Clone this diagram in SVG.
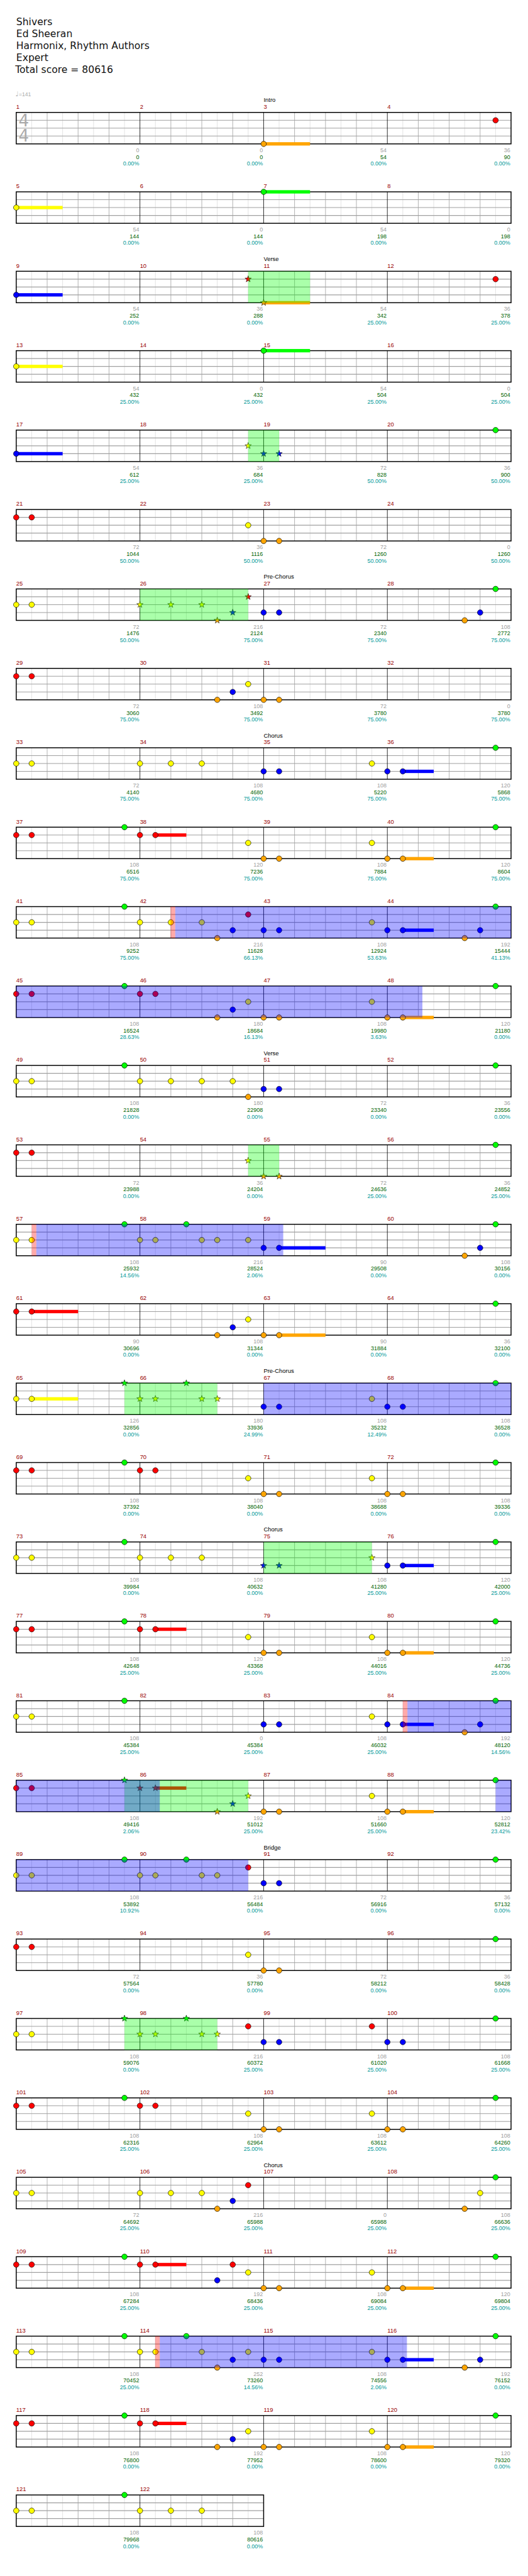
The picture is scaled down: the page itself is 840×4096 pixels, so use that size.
<svg xmlns="http://www.w3.org/2000/svg" width="840" height="4096" viewBox="0 0 840 4096">
<style>
text{font-family:"Liberation Sans",Arial,sans-serif}
.hd{font-family:"DejaVu Sans",Verdana,sans-serif;font-size:19px;fill:#111}
.mn{font-size:11.5px;fill:#990000}
.sec{font-size:11.5px;fill:#000}
.la,.lb,.lc{font-size:11px;text-anchor:end}
.la{fill:#A0A0A0}.lb{fill:#006400}.lc{fill:#009999}
.g{fill:#00FF00}.r{fill:#FF0000}.y{fill:#FFFF00}.b{fill:#0000FF}.o{fill:#FFA500}
.sp{fill:#00FF00;opacity:.333}.ov{fill:#0000FF;opacity:.333}.pk{fill:#FF0000;opacity:.333}
</style>
<defs>
<circle id="n" r="5.3" stroke="#000" stroke-width="0.8"/>
<path id="s" d="M0,-6.5L1.53,-2.1L6.18,-2.01L2.47,0.8L3.82,5.26L0,2.6L-3.82,5.26L-2.47,0.8L-6.18,-2.01L-1.53,-2.1Z" stroke="#000" stroke-width="0.7"/>
<g id="st4">
<path d="M30 0v61M90 0v61M150 0v61M210 0v61M270 0v61M330 0v61M390 0v61M450 0v61M510 0v61M570 0v61M630 0v61M690 0v61M750 0v61M810 0v61M870 0v61M930 0v61" stroke="#DDDDDD" stroke-width="1"/>
<path d="M60 0v61M120 0v61M180 0v61M300 0v61M360 0v61M420 0v61M540 0v61M600 0v61M660 0v61M780 0v61M840 0v61M900 0v61" stroke="#A0A0A0" stroke-width="1"/>
<path d="M0 15.25H960M0 30.5H960M0 45.75H960" stroke="#A0A0A0" stroke-width="1.4"/>
<path d="M240 0v61M480 0v61M720 0v61" stroke="#000" stroke-width="1"/>
<rect width="960" height="61" fill="none" stroke="#000" stroke-width="1.8"/>
</g>
<g id="st2">
<path d="M30 0v61M90 0v61M150 0v61M210 0v61M270 0v61M330 0v61M390 0v61M450 0v61" stroke="#DDDDDD" stroke-width="1"/>
<path d="M60 0v61M120 0v61M180 0v61M300 0v61M360 0v61M420 0v61" stroke="#A0A0A0" stroke-width="1"/>
<path d="M0 15.25H480M0 30.5H480M0 45.75H480" stroke="#A0A0A0" stroke-width="1.4"/>
<path d="M240 0v61" stroke="#000" stroke-width="1"/>
<rect width="480" height="61" fill="none" stroke="#000" stroke-width="1.8"/>
</g>
</defs>
<rect width="840" height="4096" fill="#fff"/>
<g transform="scale(0.82)">
<g id="header">
<text class="hd" x="31.5" y="49.3">Shivers</text>
<text class="hd" x="31.5" y="72.4">Ed Sheeran</text>
<text class="hd" x="31.5" y="95.6">Harmonix, Rhythm Authors</text>
<text class="hd" x="31.5" y="118.6">Expert</text>
<text class="hd" x="29.5" y="141.7">Total score = 80616</text>
<text x="30" y="187" style="font-family:'DejaVu Sans',sans-serif;font-size:13px;fill:#AAAAAA">♩</text>
<text x="36.5" y="186" style="font-size:10.5px;fill:#AAAAAA">=141</text>
</g>

<g id="row-1" transform="translate(31.5,218)">
<use href="#st4"/>
<text x="4.5" y="27" style="font-family:'DejaVu Sans',sans-serif;font-size:32px;fill:#AAAAAA">4</text>
<text x="4.5" y="57" style="font-family:'DejaVu Sans',sans-serif;font-size:32px;fill:#AAAAAA">4</text>
<text class="sec" x="480" y="-20">Intro</text>
<text class="mn" x="0" y="-7">1</text><text class="mn" x="240" y="-7">2</text><text class="mn" x="480" y="-7">3</text><text class="mn" x="720" y="-7">4</text>
<text class="la" x="238.5" y="77">0</text><text class="lb" x="238.5" y="90">0</text><text class="lc" x="238.5" y="103">0.00%</text>
<text class="la" x="478.5" y="77">0</text><text class="lb" x="478.5" y="90">0</text><text class="lc" x="478.5" y="103">0.00%</text>
<text class="la" x="718.5" y="77">54</text><text class="lb" x="718.5" y="90">54</text><text class="lc" x="718.5" y="103">0.00%</text>
<text class="la" x="958.5" y="77">36</text><text class="lb" x="958.5" y="90">90</text><text class="lc" x="958.5" y="103">0.00%</text>
<rect class="o" x="480" y="57.75" width="90" height="6.5"/>
<use href="#n" class="o" x="480" y="61"/><use href="#n" class="r" x="930" y="15.25"/>
</g>

<g id="row-2" transform="translate(31.5,372)">
<use href="#st4"/>
<text class="mn" x="0" y="-7">5</text><text class="mn" x="240" y="-7">6</text><text class="mn" x="480" y="-7">7</text><text class="mn" x="720" y="-7">8</text>
<text class="la" x="238.5" y="77">54</text><text class="lb" x="238.5" y="90">144</text><text class="lc" x="238.5" y="103">0.00%</text>
<text class="la" x="478.5" y="77">0</text><text class="lb" x="478.5" y="90">144</text><text class="lc" x="478.5" y="103">0.00%</text>
<text class="la" x="718.5" y="77">54</text><text class="lb" x="718.5" y="90">198</text><text class="lc" x="718.5" y="103">0.00%</text>
<text class="la" x="958.5" y="77">0</text><text class="lb" x="958.5" y="90">198</text><text class="lc" x="958.5" y="103">0.00%</text>
<rect class="y" x="0" y="27.25" width="90" height="6.5"/><rect class="g" x="480" y="-3.25" width="90" height="6.5"/>
<use href="#n" class="y" x="0" y="30.5"/><use href="#n" class="g" x="480" y="0"/>
</g>

<g id="row-3" transform="translate(31.5,526)">
<use href="#st4"/>
<text class="sec" x="480" y="-20">Verse</text>
<text class="mn" x="0" y="-7">9</text><text class="mn" x="240" y="-7">10</text><text class="mn" x="480" y="-7">11</text><text class="mn" x="720" y="-7">12</text>
<text class="la" x="238.5" y="77">54</text><text class="lb" x="238.5" y="90">252</text><text class="lc" x="238.5" y="103">0.00%</text>
<text class="la" x="478.5" y="77">36</text><text class="lb" x="478.5" y="90">288</text><text class="lc" x="478.5" y="103">0.00%</text>
<text class="la" x="718.5" y="77">54</text><text class="lb" x="718.5" y="90">342</text><text class="lc" x="718.5" y="103">25.00%</text>
<text class="la" x="958.5" y="77">36</text><text class="lb" x="958.5" y="90">378</text><text class="lc" x="958.5" y="103">25.00%</text>
<rect class="b" x="0" y="42.5" width="90" height="6.5"/><rect class="o" x="480" y="57.75" width="90" height="6.5"/>
<use href="#n" class="b" x="0" y="45.75"/><use href="#s" class="r" x="450" y="15.25"/><use href="#s" class="o" x="480" y="61"/><use href="#n" class="r" x="930" y="15.25"/>
<rect class="sp" x="450" y="0" width="120" height="61"/>
</g>

<g id="row-4" transform="translate(31.5,680)">
<use href="#st4"/>
<text class="mn" x="0" y="-7">13</text><text class="mn" x="240" y="-7">14</text><text class="mn" x="480" y="-7">15</text><text class="mn" x="720" y="-7">16</text>
<text class="la" x="238.5" y="77">54</text><text class="lb" x="238.5" y="90">432</text><text class="lc" x="238.5" y="103">25.00%</text>
<text class="la" x="478.5" y="77">0</text><text class="lb" x="478.5" y="90">432</text><text class="lc" x="478.5" y="103">25.00%</text>
<text class="la" x="718.5" y="77">54</text><text class="lb" x="718.5" y="90">504</text><text class="lc" x="718.5" y="103">25.00%</text>
<text class="la" x="958.5" y="77">0</text><text class="lb" x="958.5" y="90">504</text><text class="lc" x="958.5" y="103">25.00%</text>
<rect class="y" x="0" y="27.25" width="90" height="6.5"/><rect class="g" x="480" y="-3.25" width="90" height="6.5"/>
<use href="#n" class="y" x="0" y="30.5"/><use href="#n" class="g" x="480" y="0"/>
</g>

<g id="row-5" transform="translate(31.5,834)">
<use href="#st4"/>
<text class="mn" x="0" y="-7">17</text><text class="mn" x="240" y="-7">18</text><text class="mn" x="480" y="-7">19</text><text class="mn" x="720" y="-7">20</text>
<text class="la" x="238.5" y="77">54</text><text class="lb" x="238.5" y="90">612</text><text class="lc" x="238.5" y="103">25.00%</text>
<text class="la" x="478.5" y="77">36</text><text class="lb" x="478.5" y="90">684</text><text class="lc" x="478.5" y="103">25.00%</text>
<text class="la" x="718.5" y="77">72</text><text class="lb" x="718.5" y="90">828</text><text class="lc" x="718.5" y="103">50.00%</text>
<text class="la" x="958.5" y="77">36</text><text class="lb" x="958.5" y="90">900</text><text class="lc" x="958.5" y="103">50.00%</text>
<rect class="b" x="0" y="42.5" width="90" height="6.5"/>
<use href="#n" class="b" x="0" y="45.75"/><use href="#s" class="y" x="450" y="30.5"/><use href="#s" class="b" x="480" y="45.75"/><use href="#s" class="b" x="510" y="45.75"/><use href="#n" class="g" x="930" y="0"/>
<rect class="sp" x="450" y="0" width="60" height="61"/>
</g>

<g id="row-6" transform="translate(31.5,988)">
<use href="#st4"/>
<text class="mn" x="0" y="-7">21</text><text class="mn" x="240" y="-7">22</text><text class="mn" x="480" y="-7">23</text><text class="mn" x="720" y="-7">24</text>
<text class="la" x="238.5" y="77">72</text><text class="lb" x="238.5" y="90">1044</text><text class="lc" x="238.5" y="103">50.00%</text>
<text class="la" x="478.5" y="77">36</text><text class="lb" x="478.5" y="90">1116</text><text class="lc" x="478.5" y="103">50.00%</text>
<text class="la" x="718.5" y="77">72</text><text class="lb" x="718.5" y="90">1260</text><text class="lc" x="718.5" y="103">50.00%</text>
<text class="la" x="958.5" y="77">0</text><text class="lb" x="958.5" y="90">1260</text><text class="lc" x="958.5" y="103">50.00%</text>
<use href="#n" class="r" x="0" y="15.25"/><use href="#n" class="r" x="30" y="15.25"/><use href="#n" class="y" x="450" y="30.5"/><use href="#n" class="o" x="480" y="61"/><use href="#n" class="o" x="510" y="61"/>
</g>

<g id="row-7" transform="translate(31.5,1142)">
<use href="#st4"/>
<text class="sec" x="480" y="-20">Pre-Chorus</text>
<text class="mn" x="0" y="-7">25</text><text class="mn" x="240" y="-7">26</text><text class="mn" x="480" y="-7">27</text><text class="mn" x="720" y="-7">28</text>
<text class="la" x="238.5" y="77">72</text><text class="lb" x="238.5" y="90">1476</text><text class="lc" x="238.5" y="103">50.00%</text>
<text class="la" x="478.5" y="77">216</text><text class="lb" x="478.5" y="90">2124</text><text class="lc" x="478.5" y="103">75.00%</text>
<text class="la" x="718.5" y="77">72</text><text class="lb" x="718.5" y="90">2340</text><text class="lc" x="718.5" y="103">75.00%</text>
<text class="la" x="958.5" y="77">108</text><text class="lb" x="958.5" y="90">2772</text><text class="lc" x="958.5" y="103">75.00%</text>
<use href="#n" class="y" x="0" y="30.5"/><use href="#n" class="y" x="30" y="30.5"/><use href="#s" class="y" x="240" y="30.5"/><use href="#s" class="y" x="300" y="30.5"/><use href="#s" class="y" x="360" y="30.5"/><use href="#s" class="o" x="390" y="61"/><use href="#s" class="b" x="420" y="45.75"/><use href="#s" class="r" x="450" y="15.25"/><use href="#n" class="b" x="480" y="45.75"/><use href="#n" class="b" x="510" y="45.75"/><use href="#n" class="o" x="870" y="61"/><use href="#n" class="b" x="900" y="45.75"/><use href="#n" class="g" x="930" y="0"/>
<rect class="sp" x="240" y="0" width="210" height="61"/>
</g>

<g id="row-8" transform="translate(31.5,1296)">
<use href="#st4"/>
<text class="mn" x="0" y="-7">29</text><text class="mn" x="240" y="-7">30</text><text class="mn" x="480" y="-7">31</text><text class="mn" x="720" y="-7">32</text>
<text class="la" x="238.5" y="77">72</text><text class="lb" x="238.5" y="90">3060</text><text class="lc" x="238.5" y="103">75.00%</text>
<text class="la" x="478.5" y="77">108</text><text class="lb" x="478.5" y="90">3492</text><text class="lc" x="478.5" y="103">75.00%</text>
<text class="la" x="718.5" y="77">72</text><text class="lb" x="718.5" y="90">3780</text><text class="lc" x="718.5" y="103">75.00%</text>
<text class="la" x="958.5" y="77">0</text><text class="lb" x="958.5" y="90">3780</text><text class="lc" x="958.5" y="103">75.00%</text>
<use href="#n" class="r" x="0" y="15.25"/><use href="#n" class="r" x="30" y="15.25"/><use href="#n" class="o" x="390" y="61"/><use href="#n" class="b" x="420" y="45.75"/><use href="#n" class="y" x="450" y="30.5"/><use href="#n" class="o" x="480" y="61"/><use href="#n" class="o" x="510" y="61"/>
</g>

<g id="row-9" transform="translate(31.5,1450)">
<use href="#st4"/>
<text class="sec" x="480" y="-20">Chorus</text>
<text class="mn" x="0" y="-7">33</text><text class="mn" x="240" y="-7">34</text><text class="mn" x="480" y="-7">35</text><text class="mn" x="720" y="-7">36</text>
<text class="la" x="238.5" y="77">72</text><text class="lb" x="238.5" y="90">4140</text><text class="lc" x="238.5" y="103">75.00%</text>
<text class="la" x="478.5" y="77">108</text><text class="lb" x="478.5" y="90">4680</text><text class="lc" x="478.5" y="103">75.00%</text>
<text class="la" x="718.5" y="77">108</text><text class="lb" x="718.5" y="90">5220</text><text class="lc" x="718.5" y="103">75.00%</text>
<text class="la" x="958.5" y="77">120</text><text class="lb" x="958.5" y="90">5868</text><text class="lc" x="958.5" y="103">75.00%</text>
<rect class="b" x="750" y="42.5" width="60" height="6.5"/>
<use href="#n" class="y" x="0" y="30.5"/><use href="#n" class="y" x="30" y="30.5"/><use href="#n" class="y" x="240" y="30.5"/><use href="#n" class="y" x="300" y="30.5"/><use href="#n" class="y" x="360" y="30.5"/><use href="#n" class="b" x="480" y="45.75"/><use href="#n" class="b" x="510" y="45.75"/><use href="#n" class="y" x="690" y="30.5"/><use href="#n" class="b" x="720" y="45.75"/><use href="#n" class="b" x="750" y="45.75"/><use href="#n" class="g" x="930" y="0"/>
</g>

<g id="row-10" transform="translate(31.5,1604)">
<use href="#st4"/>
<text class="mn" x="0" y="-7">37</text><text class="mn" x="240" y="-7">38</text><text class="mn" x="480" y="-7">39</text><text class="mn" x="720" y="-7">40</text>
<text class="la" x="238.5" y="77">108</text><text class="lb" x="238.5" y="90">6516</text><text class="lc" x="238.5" y="103">75.00%</text>
<text class="la" x="478.5" y="77">120</text><text class="lb" x="478.5" y="90">7236</text><text class="lc" x="478.5" y="103">75.00%</text>
<text class="la" x="718.5" y="77">108</text><text class="lb" x="718.5" y="90">7884</text><text class="lc" x="718.5" y="103">75.00%</text>
<text class="la" x="958.5" y="77">120</text><text class="lb" x="958.5" y="90">8604</text><text class="lc" x="958.5" y="103">75.00%</text>
<rect class="r" x="270" y="12" width="60" height="6.5"/><rect class="o" x="750" y="57.75" width="60" height="6.5"/>
<use href="#n" class="r" x="0" y="15.25"/><use href="#n" class="r" x="30" y="15.25"/><use href="#n" class="g" x="210" y="0"/><use href="#n" class="r" x="240" y="15.25"/><use href="#n" class="r" x="270" y="15.25"/><use href="#n" class="y" x="450" y="30.5"/><use href="#n" class="o" x="480" y="61"/><use href="#n" class="o" x="510" y="61"/><use href="#n" class="y" x="690" y="30.5"/><use href="#n" class="o" x="720" y="61"/><use href="#n" class="o" x="750" y="61"/><use href="#n" class="g" x="930" y="0"/>
</g>

<g id="row-11" transform="translate(31.5,1758)">
<use href="#st4"/>
<text class="mn" x="0" y="-7">41</text><text class="mn" x="240" y="-7">42</text><text class="mn" x="480" y="-7">43</text><text class="mn" x="720" y="-7">44</text>
<text class="la" x="238.5" y="77">108</text><text class="lb" x="238.5" y="90">9252</text><text class="lc" x="238.5" y="103">75.00%</text>
<text class="la" x="478.5" y="77">216</text><text class="lb" x="478.5" y="90">11628</text><text class="lc" x="478.5" y="103">66.13%</text>
<text class="la" x="718.5" y="77">108</text><text class="lb" x="718.5" y="90">12924</text><text class="lc" x="718.5" y="103">53.63%</text>
<text class="la" x="958.5" y="77">192</text><text class="lb" x="958.5" y="90">15444</text><text class="lc" x="958.5" y="103">41.13%</text>
<rect class="b" x="750" y="42.5" width="60" height="6.5"/>
<use href="#n" class="y" x="0" y="30.5"/><use href="#n" class="y" x="30" y="30.5"/><use href="#n" class="g" x="210" y="0"/><use href="#n" class="y" x="240" y="30.5"/><use href="#n" class="y" x="300" y="30.5"/><use href="#n" class="y" x="360" y="30.5"/><use href="#n" class="o" x="390" y="61"/><use href="#n" class="b" x="420" y="45.75"/><use href="#n" class="r" x="450" y="15.25"/><use href="#n" class="b" x="480" y="45.75"/><use href="#n" class="b" x="510" y="45.75"/><use href="#n" class="y" x="690" y="30.5"/><use href="#n" class="b" x="720" y="45.75"/><use href="#n" class="b" x="750" y="45.75"/><use href="#n" class="o" x="870" y="61"/><use href="#n" class="b" x="900" y="45.75"/><use href="#n" class="g" x="930" y="0"/>
<rect class="pk" x="299.5" y="0" width="9" height="61"/><rect class="ov" x="308.5" y="0" width="651.5" height="61"/>
</g>

<g id="row-12" transform="translate(31.5,1912)">
<use href="#st4"/>
<text class="mn" x="0" y="-7">45</text><text class="mn" x="240" y="-7">46</text><text class="mn" x="480" y="-7">47</text><text class="mn" x="720" y="-7">48</text>
<text class="la" x="238.5" y="77">108</text><text class="lb" x="238.5" y="90">16524</text><text class="lc" x="238.5" y="103">28.63%</text>
<text class="la" x="478.5" y="77">180</text><text class="lb" x="478.5" y="90">18684</text><text class="lc" x="478.5" y="103">16.13%</text>
<text class="la" x="718.5" y="77">108</text><text class="lb" x="718.5" y="90">19980</text><text class="lc" x="718.5" y="103">3.63%</text>
<text class="la" x="958.5" y="77">120</text><text class="lb" x="958.5" y="90">21180</text><text class="lc" x="958.5" y="103">0.00%</text>
<rect class="o" x="750" y="57.75" width="60" height="6.5"/>
<use href="#n" class="r" x="0" y="15.25"/><use href="#n" class="r" x="30" y="15.25"/><use href="#n" class="g" x="210" y="0"/><use href="#n" class="r" x="240" y="15.25"/><use href="#n" class="r" x="270" y="15.25"/><use href="#n" class="o" x="390" y="61"/><use href="#n" class="b" x="420" y="45.75"/><use href="#n" class="y" x="450" y="30.5"/><use href="#n" class="o" x="480" y="61"/><use href="#n" class="o" x="510" y="61"/><use href="#n" class="y" x="690" y="30.5"/><use href="#n" class="o" x="720" y="61"/><use href="#n" class="o" x="750" y="61"/><use href="#n" class="g" x="930" y="0"/>
<rect class="ov" x="0" y="0" width="788" height="61"/>
</g>

<g id="row-13" transform="translate(31.5,2066)">
<use href="#st4"/>
<text class="sec" x="480" y="-20">Verse</text>
<text class="mn" x="0" y="-7">49</text><text class="mn" x="240" y="-7">50</text><text class="mn" x="480" y="-7">51</text><text class="mn" x="720" y="-7">52</text>
<text class="la" x="238.5" y="77">108</text><text class="lb" x="238.5" y="90">21828</text><text class="lc" x="238.5" y="103">0.00%</text>
<text class="la" x="478.5" y="77">180</text><text class="lb" x="478.5" y="90">22908</text><text class="lc" x="478.5" y="103">0.00%</text>
<text class="la" x="718.5" y="77">72</text><text class="lb" x="718.5" y="90">23340</text><text class="lc" x="718.5" y="103">0.00%</text>
<text class="la" x="958.5" y="77">36</text><text class="lb" x="958.5" y="90">23556</text><text class="lc" x="958.5" y="103">0.00%</text>
<use href="#n" class="y" x="0" y="30.5"/><use href="#n" class="y" x="30" y="30.5"/><use href="#n" class="g" x="210" y="0"/><use href="#n" class="y" x="240" y="30.5"/><use href="#n" class="y" x="300" y="30.5"/><use href="#n" class="y" x="360" y="30.5"/><use href="#n" class="y" x="420" y="30.5"/><use href="#n" class="o" x="450" y="61"/><use href="#n" class="b" x="480" y="45.75"/><use href="#n" class="b" x="510" y="45.75"/><use href="#n" class="g" x="930" y="0"/>
</g>

<g id="row-14" transform="translate(31.5,2220)">
<use href="#st4"/>
<text class="mn" x="0" y="-7">53</text><text class="mn" x="240" y="-7">54</text><text class="mn" x="480" y="-7">55</text><text class="mn" x="720" y="-7">56</text>
<text class="la" x="238.5" y="77">72</text><text class="lb" x="238.5" y="90">23988</text><text class="lc" x="238.5" y="103">0.00%</text>
<text class="la" x="478.5" y="77">36</text><text class="lb" x="478.5" y="90">24204</text><text class="lc" x="478.5" y="103">0.00%</text>
<text class="la" x="718.5" y="77">72</text><text class="lb" x="718.5" y="90">24636</text><text class="lc" x="718.5" y="103">25.00%</text>
<text class="la" x="958.5" y="77">36</text><text class="lb" x="958.5" y="90">24852</text><text class="lc" x="958.5" y="103">25.00%</text>
<use href="#n" class="r" x="0" y="15.25"/><use href="#n" class="r" x="30" y="15.25"/><use href="#s" class="y" x="450" y="30.5"/><use href="#s" class="o" x="480" y="61"/><use href="#s" class="o" x="510" y="61"/><use href="#n" class="g" x="930" y="0"/>
<rect class="sp" x="450" y="0" width="60" height="61"/>
</g>

<g id="row-15" transform="translate(31.5,2374)">
<use href="#st4"/>
<text class="mn" x="0" y="-7">57</text><text class="mn" x="240" y="-7">58</text><text class="mn" x="480" y="-7">59</text><text class="mn" x="720" y="-7">60</text>
<text class="la" x="238.5" y="77">108</text><text class="lb" x="238.5" y="90">25932</text><text class="lc" x="238.5" y="103">14.56%</text>
<text class="la" x="478.5" y="77">216</text><text class="lb" x="478.5" y="90">28524</text><text class="lc" x="478.5" y="103">2.06%</text>
<text class="la" x="718.5" y="77">90</text><text class="lb" x="718.5" y="90">29508</text><text class="lc" x="718.5" y="103">0.00%</text>
<text class="la" x="958.5" y="77">108</text><text class="lb" x="958.5" y="90">30156</text><text class="lc" x="958.5" y="103">0.00%</text>
<rect class="b" x="510" y="42.5" width="90" height="6.5"/>
<use href="#n" class="y" x="0" y="30.5"/><use href="#n" class="y" x="30" y="30.5"/><use href="#n" class="g" x="210" y="0"/><use href="#n" class="y" x="240" y="30.5"/><use href="#n" class="y" x="270" y="30.5"/><use href="#n" class="g" x="330" y="0"/><use href="#n" class="y" x="360" y="30.5"/><use href="#n" class="y" x="390" y="30.5"/><use href="#n" class="y" x="450" y="30.5"/><use href="#n" class="b" x="480" y="45.75"/><use href="#n" class="b" x="510" y="45.75"/><use href="#n" class="o" x="870" y="61"/><use href="#n" class="b" x="900" y="45.75"/><use href="#n" class="g" x="930" y="0"/>
<rect class="pk" x="30" y="0" width="9" height="61"/><rect class="ov" x="39" y="0" width="479" height="61"/>
</g>

<g id="row-16" transform="translate(31.5,2528)">
<use href="#st4"/>
<text class="mn" x="0" y="-7">61</text><text class="mn" x="240" y="-7">62</text><text class="mn" x="480" y="-7">63</text><text class="mn" x="720" y="-7">64</text>
<text class="la" x="238.5" y="77">90</text><text class="lb" x="238.5" y="90">30696</text><text class="lc" x="238.5" y="103">0.00%</text>
<text class="la" x="478.5" y="77">108</text><text class="lb" x="478.5" y="90">31344</text><text class="lc" x="478.5" y="103">0.00%</text>
<text class="la" x="718.5" y="77">90</text><text class="lb" x="718.5" y="90">31884</text><text class="lc" x="718.5" y="103">0.00%</text>
<text class="la" x="958.5" y="77">36</text><text class="lb" x="958.5" y="90">32100</text><text class="lc" x="958.5" y="103">0.00%</text>
<rect class="r" x="30" y="12" width="90" height="6.5"/><rect class="o" x="510" y="57.75" width="90" height="6.5"/>
<use href="#n" class="r" x="0" y="15.25"/><use href="#n" class="r" x="30" y="15.25"/><use href="#n" class="o" x="390" y="61"/><use href="#n" class="b" x="420" y="45.75"/><use href="#n" class="y" x="450" y="30.5"/><use href="#n" class="o" x="480" y="61"/><use href="#n" class="o" x="510" y="61"/><use href="#n" class="g" x="930" y="0"/>
</g>

<g id="row-17" transform="translate(31.5,2682)">
<use href="#st4"/>
<text class="sec" x="480" y="-20">Pre-Chorus</text>
<text class="mn" x="0" y="-7">65</text><text class="mn" x="240" y="-7">66</text><text class="mn" x="480" y="-7">67</text><text class="mn" x="720" y="-7">68</text>
<text class="la" x="238.5" y="77">126</text><text class="lb" x="238.5" y="90">32856</text><text class="lc" x="238.5" y="103">0.00%</text>
<text class="la" x="478.5" y="77">180</text><text class="lb" x="478.5" y="90">33936</text><text class="lc" x="478.5" y="103">24.99%</text>
<text class="la" x="718.5" y="77">108</text><text class="lb" x="718.5" y="90">35232</text><text class="lc" x="718.5" y="103">12.49%</text>
<text class="la" x="958.5" y="77">108</text><text class="lb" x="958.5" y="90">36528</text><text class="lc" x="958.5" y="103">0.00%</text>
<rect class="y" x="30" y="27.25" width="90" height="6.5"/>
<use href="#n" class="y" x="0" y="30.5"/><use href="#n" class="y" x="30" y="30.5"/><use href="#s" class="g" x="210" y="0"/><use href="#s" class="y" x="240" y="30.5"/><use href="#s" class="y" x="270" y="30.5"/><use href="#s" class="g" x="330" y="0"/><use href="#s" class="y" x="360" y="30.5"/><use href="#s" class="y" x="390" y="30.5"/><use href="#n" class="b" x="480" y="45.75"/><use href="#n" class="b" x="510" y="45.75"/><use href="#n" class="y" x="690" y="30.5"/><use href="#n" class="b" x="720" y="45.75"/><use href="#n" class="b" x="750" y="45.75"/><use href="#n" class="g" x="930" y="0"/>
<rect class="sp" x="210" y="0" width="180" height="61"/><rect class="ov" x="480" y="0" width="480" height="61"/>
</g>

<g id="row-18" transform="translate(31.5,2836)">
<use href="#st4"/>
<text class="mn" x="0" y="-7">69</text><text class="mn" x="240" y="-7">70</text><text class="mn" x="480" y="-7">71</text><text class="mn" x="720" y="-7">72</text>
<text class="la" x="238.5" y="77">108</text><text class="lb" x="238.5" y="90">37392</text><text class="lc" x="238.5" y="103">0.00%</text>
<text class="la" x="478.5" y="77">108</text><text class="lb" x="478.5" y="90">38040</text><text class="lc" x="478.5" y="103">0.00%</text>
<text class="la" x="718.5" y="77">108</text><text class="lb" x="718.5" y="90">38688</text><text class="lc" x="718.5" y="103">0.00%</text>
<text class="la" x="958.5" y="77">108</text><text class="lb" x="958.5" y="90">39336</text><text class="lc" x="958.5" y="103">0.00%</text>
<use href="#n" class="r" x="0" y="15.25"/><use href="#n" class="r" x="30" y="15.25"/><use href="#n" class="g" x="210" y="0"/><use href="#n" class="r" x="240" y="15.25"/><use href="#n" class="r" x="270" y="15.25"/><use href="#n" class="y" x="450" y="30.5"/><use href="#n" class="o" x="480" y="61"/><use href="#n" class="o" x="510" y="61"/><use href="#n" class="y" x="690" y="30.5"/><use href="#n" class="o" x="720" y="61"/><use href="#n" class="o" x="750" y="61"/><use href="#n" class="g" x="930" y="0"/>
</g>

<g id="row-19" transform="translate(31.5,2990)">
<use href="#st4"/>
<text class="sec" x="480" y="-20">Chorus</text>
<text class="mn" x="0" y="-7">73</text><text class="mn" x="240" y="-7">74</text><text class="mn" x="480" y="-7">75</text><text class="mn" x="720" y="-7">76</text>
<text class="la" x="238.5" y="77">108</text><text class="lb" x="238.5" y="90">39984</text><text class="lc" x="238.5" y="103">0.00%</text>
<text class="la" x="478.5" y="77">108</text><text class="lb" x="478.5" y="90">40632</text><text class="lc" x="478.5" y="103">0.00%</text>
<text class="la" x="718.5" y="77">108</text><text class="lb" x="718.5" y="90">41280</text><text class="lc" x="718.5" y="103">25.00%</text>
<text class="la" x="958.5" y="77">120</text><text class="lb" x="958.5" y="90">42000</text><text class="lc" x="958.5" y="103">25.00%</text>
<rect class="b" x="750" y="42.5" width="60" height="6.5"/>
<use href="#n" class="y" x="0" y="30.5"/><use href="#n" class="y" x="30" y="30.5"/><use href="#n" class="g" x="210" y="0"/><use href="#n" class="y" x="240" y="30.5"/><use href="#n" class="y" x="300" y="30.5"/><use href="#n" class="y" x="360" y="30.5"/><use href="#s" class="b" x="480" y="45.75"/><use href="#s" class="b" x="510" y="45.75"/><use href="#s" class="y" x="690" y="30.5"/><use href="#n" class="b" x="720" y="45.75"/><use href="#n" class="b" x="750" y="45.75"/><use href="#n" class="g" x="930" y="0"/>
<rect class="sp" x="480" y="0" width="210" height="61"/>
</g>

<g id="row-20" transform="translate(31.5,3144)">
<use href="#st4"/>
<text class="mn" x="0" y="-7">77</text><text class="mn" x="240" y="-7">78</text><text class="mn" x="480" y="-7">79</text><text class="mn" x="720" y="-7">80</text>
<text class="la" x="238.5" y="77">108</text><text class="lb" x="238.5" y="90">42648</text><text class="lc" x="238.5" y="103">25.00%</text>
<text class="la" x="478.5" y="77">120</text><text class="lb" x="478.5" y="90">43368</text><text class="lc" x="478.5" y="103">25.00%</text>
<text class="la" x="718.5" y="77">108</text><text class="lb" x="718.5" y="90">44016</text><text class="lc" x="718.5" y="103">25.00%</text>
<text class="la" x="958.5" y="77">120</text><text class="lb" x="958.5" y="90">44736</text><text class="lc" x="958.5" y="103">25.00%</text>
<rect class="r" x="270" y="12" width="60" height="6.5"/><rect class="o" x="750" y="57.75" width="60" height="6.5"/>
<use href="#n" class="r" x="0" y="15.25"/><use href="#n" class="r" x="30" y="15.25"/><use href="#n" class="g" x="210" y="0"/><use href="#n" class="r" x="240" y="15.25"/><use href="#n" class="r" x="270" y="15.25"/><use href="#n" class="y" x="450" y="30.5"/><use href="#n" class="o" x="480" y="61"/><use href="#n" class="o" x="510" y="61"/><use href="#n" class="y" x="690" y="30.5"/><use href="#n" class="o" x="720" y="61"/><use href="#n" class="o" x="750" y="61"/><use href="#n" class="g" x="930" y="0"/>
</g>

<g id="row-21" transform="translate(31.5,3298)">
<use href="#st4"/>
<text class="mn" x="0" y="-7">81</text><text class="mn" x="240" y="-7">82</text><text class="mn" x="480" y="-7">83</text><text class="mn" x="720" y="-7">84</text>
<text class="la" x="238.5" y="77">108</text><text class="lb" x="238.5" y="90">45384</text><text class="lc" x="238.5" y="103">25.00%</text>
<text class="la" x="478.5" y="77">0</text><text class="lb" x="478.5" y="90">45384</text><text class="lc" x="478.5" y="103">25.00%</text>
<text class="la" x="718.5" y="77">108</text><text class="lb" x="718.5" y="90">46032</text><text class="lc" x="718.5" y="103">25.00%</text>
<text class="la" x="958.5" y="77">192</text><text class="lb" x="958.5" y="90">48120</text><text class="lc" x="958.5" y="103">14.56%</text>
<rect class="b" x="750" y="42.5" width="60" height="6.5"/>
<use href="#n" class="y" x="0" y="30.5"/><use href="#n" class="y" x="30" y="30.5"/><use href="#n" class="g" x="210" y="0"/><use href="#n" class="b" x="480" y="45.75"/><use href="#n" class="b" x="510" y="45.75"/><use href="#n" class="y" x="690" y="30.5"/><use href="#n" class="b" x="720" y="45.75"/><use href="#n" class="b" x="750" y="45.75"/><use href="#n" class="o" x="870" y="61"/><use href="#n" class="b" x="900" y="45.75"/><use href="#n" class="g" x="930" y="0"/>
<rect class="pk" x="750" y="0" width="9" height="61"/><rect class="ov" x="759" y="0" width="201" height="61"/>
</g>

<g id="row-22" transform="translate(31.5,3452)">
<use href="#st4"/>
<text class="mn" x="0" y="-7">85</text><text class="mn" x="240" y="-7">86</text><text class="mn" x="480" y="-7">87</text><text class="mn" x="720" y="-7">88</text>
<text class="la" x="238.5" y="77">108</text><text class="lb" x="238.5" y="90">49416</text><text class="lc" x="238.5" y="103">2.06%</text>
<text class="la" x="478.5" y="77">192</text><text class="lb" x="478.5" y="90">51012</text><text class="lc" x="478.5" y="103">25.00%</text>
<text class="la" x="718.5" y="77">108</text><text class="lb" x="718.5" y="90">51660</text><text class="lc" x="718.5" y="103">25.00%</text>
<text class="la" x="958.5" y="77">120</text><text class="lb" x="958.5" y="90">52812</text><text class="lc" x="958.5" y="103">23.42%</text>
<rect class="r" x="270" y="12" width="60" height="6.5"/><rect class="o" x="750" y="57.75" width="60" height="6.5"/>
<use href="#n" class="r" x="0" y="15.25"/><use href="#n" class="r" x="30" y="15.25"/><use href="#s" class="g" x="210" y="0"/><use href="#s" class="r" x="240" y="15.25"/><use href="#s" class="r" x="270" y="15.25"/><use href="#s" class="o" x="390" y="61"/><use href="#s" class="b" x="420" y="45.75"/><use href="#s" class="y" x="450" y="30.5"/><use href="#n" class="o" x="480" y="61"/><use href="#n" class="o" x="510" y="61"/><use href="#n" class="y" x="690" y="30.5"/><use href="#n" class="o" x="720" y="61"/><use href="#n" class="o" x="750" y="61"/><use href="#n" class="g" x="930" y="0"/>
<rect class="sp" x="210" y="0" width="240" height="61"/><rect class="ov" x="0" y="0" width="278.5" height="61"/><rect class="ov" x="930" y="0" width="30" height="61"/>
</g>

<g id="row-23" transform="translate(31.5,3606)">
<use href="#st4"/>
<text class="sec" x="480" y="-20">Bridge</text>
<text class="mn" x="0" y="-7">89</text><text class="mn" x="240" y="-7">90</text><text class="mn" x="480" y="-7">91</text><text class="mn" x="720" y="-7">92</text>
<text class="la" x="238.5" y="77">108</text><text class="lb" x="238.5" y="90">53892</text><text class="lc" x="238.5" y="103">10.92%</text>
<text class="la" x="478.5" y="77">216</text><text class="lb" x="478.5" y="90">56484</text><text class="lc" x="478.5" y="103">0.00%</text>
<text class="la" x="718.5" y="77">72</text><text class="lb" x="718.5" y="90">56916</text><text class="lc" x="718.5" y="103">0.00%</text>
<text class="la" x="958.5" y="77">36</text><text class="lb" x="958.5" y="90">57132</text><text class="lc" x="958.5" y="103">0.00%</text>
<use href="#n" class="y" x="0" y="30.5"/><use href="#n" class="y" x="30" y="30.5"/><use href="#n" class="g" x="210" y="0"/><use href="#n" class="y" x="240" y="30.5"/><use href="#n" class="y" x="270" y="30.5"/><use href="#n" class="g" x="330" y="0"/><use href="#n" class="y" x="360" y="30.5"/><use href="#n" class="y" x="390" y="30.5"/><use href="#n" class="r" x="450" y="15.25"/><use href="#n" class="b" x="480" y="45.75"/><use href="#n" class="b" x="510" y="45.75"/><use href="#n" class="g" x="930" y="0"/>
<rect class="ov" x="0" y="0" width="450" height="61"/>
</g>

<g id="row-24" transform="translate(31.5,3760)">
<use href="#st4"/>
<text class="mn" x="0" y="-7">93</text><text class="mn" x="240" y="-7">94</text><text class="mn" x="480" y="-7">95</text><text class="mn" x="720" y="-7">96</text>
<text class="la" x="238.5" y="77">72</text><text class="lb" x="238.5" y="90">57564</text><text class="lc" x="238.5" y="103">0.00%</text>
<text class="la" x="478.5" y="77">36</text><text class="lb" x="478.5" y="90">57780</text><text class="lc" x="478.5" y="103">0.00%</text>
<text class="la" x="718.5" y="77">72</text><text class="lb" x="718.5" y="90">58212</text><text class="lc" x="718.5" y="103">0.00%</text>
<text class="la" x="958.5" y="77">36</text><text class="lb" x="958.5" y="90">58428</text><text class="lc" x="958.5" y="103">0.00%</text>
<use href="#n" class="r" x="0" y="15.25"/><use href="#n" class="r" x="30" y="15.25"/><use href="#n" class="y" x="450" y="30.5"/><use href="#n" class="o" x="480" y="61"/><use href="#n" class="o" x="510" y="61"/><use href="#n" class="g" x="930" y="0"/>
</g>

<g id="row-25" transform="translate(31.5,3914)">
<use href="#st4"/>
<text class="mn" x="0" y="-7">97</text><text class="mn" x="240" y="-7">98</text><text class="mn" x="480" y="-7">99</text><text class="mn" x="720" y="-7">100</text>
<text class="la" x="238.5" y="77">108</text><text class="lb" x="238.5" y="90">59076</text><text class="lc" x="238.5" y="103">0.00%</text>
<text class="la" x="478.5" y="77">216</text><text class="lb" x="478.5" y="90">60372</text><text class="lc" x="478.5" y="103">25.00%</text>
<text class="la" x="718.5" y="77">108</text><text class="lb" x="718.5" y="90">61020</text><text class="lc" x="718.5" y="103">25.00%</text>
<text class="la" x="958.5" y="77">108</text><text class="lb" x="958.5" y="90">61668</text><text class="lc" x="958.5" y="103">25.00%</text>
<use href="#n" class="y" x="0" y="30.5"/><use href="#n" class="y" x="30" y="30.5"/><use href="#s" class="g" x="210" y="0"/><use href="#s" class="y" x="240" y="30.5"/><use href="#s" class="y" x="270" y="30.5"/><use href="#s" class="g" x="330" y="0"/><use href="#s" class="y" x="360" y="30.5"/><use href="#s" class="y" x="390" y="30.5"/><use href="#n" class="r" x="450" y="15.25"/><use href="#n" class="b" x="480" y="45.75"/><use href="#n" class="b" x="510" y="45.75"/><use href="#n" class="r" x="690" y="15.25"/><use href="#n" class="b" x="720" y="45.75"/><use href="#n" class="b" x="750" y="45.75"/><use href="#n" class="g" x="930" y="0"/>
<rect class="sp" x="210" y="0" width="180" height="61"/>
</g>

<g id="row-26" transform="translate(31.5,4068)">
<use href="#st4"/>
<text class="mn" x="0" y="-7">101</text><text class="mn" x="240" y="-7">102</text><text class="mn" x="480" y="-7">103</text><text class="mn" x="720" y="-7">104</text>
<text class="la" x="238.5" y="77">108</text><text class="lb" x="238.5" y="90">62316</text><text class="lc" x="238.5" y="103">25.00%</text>
<text class="la" x="478.5" y="77">108</text><text class="lb" x="478.5" y="90">62964</text><text class="lc" x="478.5" y="103">25.00%</text>
<text class="la" x="718.5" y="77">108</text><text class="lb" x="718.5" y="90">63612</text><text class="lc" x="718.5" y="103">25.00%</text>
<text class="la" x="958.5" y="77">108</text><text class="lb" x="958.5" y="90">64260</text><text class="lc" x="958.5" y="103">25.00%</text>
<use href="#n" class="r" x="0" y="15.25"/><use href="#n" class="r" x="30" y="15.25"/><use href="#n" class="g" x="210" y="0"/><use href="#n" class="r" x="240" y="15.25"/><use href="#n" class="r" x="270" y="15.25"/><use href="#n" class="y" x="450" y="30.5"/><use href="#n" class="o" x="480" y="61"/><use href="#n" class="o" x="510" y="61"/><use href="#n" class="y" x="690" y="30.5"/><use href="#n" class="o" x="720" y="61"/><use href="#n" class="o" x="750" y="61"/><use href="#n" class="g" x="930" y="0"/>
</g>

<g id="row-27" transform="translate(31.5,4222)">
<use href="#st4"/>
<text class="sec" x="480" y="-20">Chorus</text>
<text class="mn" x="0" y="-7">105</text><text class="mn" x="240" y="-7">106</text><text class="mn" x="480" y="-7">107</text><text class="mn" x="720" y="-7">108</text>
<text class="la" x="238.5" y="77">72</text><text class="lb" x="238.5" y="90">64692</text><text class="lc" x="238.5" y="103">25.00%</text>
<text class="la" x="478.5" y="77">216</text><text class="lb" x="478.5" y="90">65988</text><text class="lc" x="478.5" y="103">25.00%</text>
<text class="la" x="718.5" y="77">0</text><text class="lb" x="718.5" y="90">65988</text><text class="lc" x="718.5" y="103">25.00%</text>
<text class="la" x="958.5" y="77">108</text><text class="lb" x="958.5" y="90">66636</text><text class="lc" x="958.5" y="103">25.00%</text>
<use href="#n" class="y" x="0" y="30.5"/><use href="#n" class="y" x="30" y="30.5"/><use href="#n" class="y" x="240" y="30.5"/><use href="#n" class="y" x="300" y="30.5"/><use href="#n" class="y" x="360" y="30.5"/><use href="#n" class="o" x="390" y="61"/><use href="#n" class="b" x="420" y="45.75"/><use href="#n" class="r" x="450" y="15.25"/><use href="#n" class="o" x="870" y="61"/><use href="#n" class="y" x="900" y="30.5"/><use href="#n" class="g" x="930" y="0"/>
</g>

<g id="row-28" transform="translate(31.5,4376)">
<use href="#st4"/>
<text class="mn" x="0" y="-7">109</text><text class="mn" x="240" y="-7">110</text><text class="mn" x="480" y="-7">111</text><text class="mn" x="720" y="-7">112</text>
<text class="la" x="238.5" y="77">108</text><text class="lb" x="238.5" y="90">67284</text><text class="lc" x="238.5" y="103">25.00%</text>
<text class="la" x="478.5" y="77">192</text><text class="lb" x="478.5" y="90">68436</text><text class="lc" x="478.5" y="103">25.00%</text>
<text class="la" x="718.5" y="77">108</text><text class="lb" x="718.5" y="90">69084</text><text class="lc" x="718.5" y="103">25.00%</text>
<text class="la" x="958.5" y="77">120</text><text class="lb" x="958.5" y="90">69804</text><text class="lc" x="958.5" y="103">25.00%</text>
<rect class="r" x="270" y="12" width="60" height="6.5"/><rect class="o" x="750" y="57.75" width="60" height="6.5"/>
<use href="#n" class="r" x="0" y="15.25"/><use href="#n" class="r" x="30" y="15.25"/><use href="#n" class="g" x="210" y="0"/><use href="#n" class="r" x="240" y="15.25"/><use href="#n" class="r" x="270" y="15.25"/><use href="#n" class="b" x="390" y="45.75"/><use href="#n" class="r" x="420" y="15.25"/><use href="#n" class="y" x="450" y="30.5"/><use href="#n" class="o" x="480" y="61"/><use href="#n" class="o" x="510" y="61"/><use href="#n" class="y" x="690" y="30.5"/><use href="#n" class="o" x="720" y="61"/><use href="#n" class="o" x="750" y="61"/><use href="#n" class="g" x="930" y="0"/>
</g>

<g id="row-29" transform="translate(31.5,4530)">
<use href="#st4"/>
<text class="mn" x="0" y="-7">113</text><text class="mn" x="240" y="-7">114</text><text class="mn" x="480" y="-7">115</text><text class="mn" x="720" y="-7">116</text>
<text class="la" x="238.5" y="77">108</text><text class="lb" x="238.5" y="90">70452</text><text class="lc" x="238.5" y="103">25.00%</text>
<text class="la" x="478.5" y="77">252</text><text class="lb" x="478.5" y="90">73260</text><text class="lc" x="478.5" y="103">14.56%</text>
<text class="la" x="718.5" y="77">108</text><text class="lb" x="718.5" y="90">74556</text><text class="lc" x="718.5" y="103">2.06%</text>
<text class="la" x="958.5" y="77">192</text><text class="lb" x="958.5" y="90">76152</text><text class="lc" x="958.5" y="103">0.00%</text>
<rect class="b" x="750" y="42.5" width="60" height="6.5"/>
<use href="#n" class="y" x="0" y="30.5"/><use href="#n" class="y" x="30" y="30.5"/><use href="#n" class="g" x="210" y="0"/><use href="#n" class="y" x="240" y="30.5"/><use href="#n" class="y" x="270" y="30.5"/><use href="#n" class="g" x="330" y="0"/><use href="#n" class="y" x="360" y="30.5"/><use href="#n" class="o" x="390" y="61"/><use href="#n" class="b" x="420" y="45.75"/><use href="#n" class="y" x="450" y="30.5"/><use href="#n" class="b" x="480" y="45.75"/><use href="#n" class="b" x="510" y="45.75"/><use href="#n" class="y" x="690" y="30.5"/><use href="#n" class="b" x="720" y="45.75"/><use href="#n" class="b" x="750" y="45.75"/><use href="#n" class="o" x="870" y="61"/><use href="#n" class="b" x="900" y="45.75"/><use href="#n" class="g" x="930" y="0"/>
<rect class="pk" x="269.5" y="0" width="9" height="61"/><rect class="ov" x="278.5" y="0" width="479.5" height="61"/>
</g>

<g id="row-30" transform="translate(31.5,4684)">
<use href="#st4"/>
<text class="mn" x="0" y="-7">117</text><text class="mn" x="240" y="-7">118</text><text class="mn" x="480" y="-7">119</text><text class="mn" x="720" y="-7">120</text>
<text class="la" x="238.5" y="77">108</text><text class="lb" x="238.5" y="90">76800</text><text class="lc" x="238.5" y="103">0.00%</text>
<text class="la" x="478.5" y="77">192</text><text class="lb" x="478.5" y="90">77952</text><text class="lc" x="478.5" y="103">0.00%</text>
<text class="la" x="718.5" y="77">108</text><text class="lb" x="718.5" y="90">78600</text><text class="lc" x="718.5" y="103">0.00%</text>
<text class="la" x="958.5" y="77">120</text><text class="lb" x="958.5" y="90">79320</text><text class="lc" x="958.5" y="103">0.00%</text>
<rect class="r" x="270" y="12" width="60" height="6.5"/><rect class="o" x="750" y="57.75" width="60" height="6.5"/>
<use href="#n" class="r" x="0" y="15.25"/><use href="#n" class="r" x="30" y="15.25"/><use href="#n" class="g" x="210" y="0"/><use href="#n" class="r" x="240" y="15.25"/><use href="#n" class="r" x="270" y="15.25"/><use href="#n" class="o" x="390" y="61"/><use href="#n" class="b" x="420" y="45.75"/><use href="#n" class="y" x="450" y="30.5"/><use href="#n" class="o" x="480" y="61"/><use href="#n" class="o" x="510" y="61"/><use href="#n" class="y" x="690" y="30.5"/><use href="#n" class="o" x="720" y="61"/><use href="#n" class="o" x="750" y="61"/><use href="#n" class="g" x="930" y="0"/>
</g>

<g id="row-31" transform="translate(31.5,4838)">
<use href="#st2"/>
<text class="mn" x="0" y="-7">121</text><text class="mn" x="240" y="-7">122</text>
<text class="la" x="238.5" y="77">108</text><text class="lb" x="238.5" y="90">79968</text><text class="lc" x="238.5" y="103">0.00%</text>
<text class="la" x="478.5" y="77">108</text><text class="lb" x="478.5" y="90">80616</text><text class="lc" x="478.5" y="103">0.00%</text>
<use href="#n" class="y" x="0" y="30.5"/><use href="#n" class="y" x="30" y="30.5"/><use href="#n" class="g" x="210" y="0"/><use href="#n" class="y" x="240" y="30.5"/><use href="#n" class="y" x="300" y="30.5"/><use href="#n" class="y" x="360" y="30.5"/>
</g>
</g>
</svg>
